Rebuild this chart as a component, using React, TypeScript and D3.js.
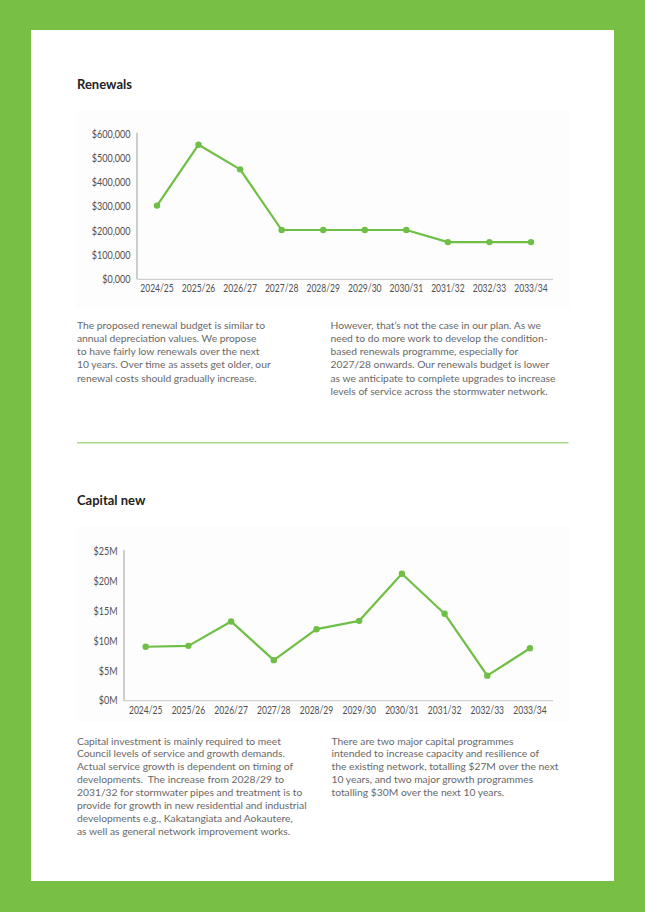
import React from "react";
import * as d3 from "d3";

const years = ["2024/25","2025/26","2026/27","2027/28","2028/29","2029/30","2030/31","2031/32","2032/33","2033/34"];
const renewalValues = [305000, 557000, 455000, 204000, 204000, 204000, 204000, 154000, 154000, 154000];
const renewalTicks = [0, 100000, 200000, 300000, 400000, 500000, 600000];
const capitalValues = [9.05, 9.2, 13.3, 6.8, 12.0, 13.4, 21.3, 14.6, 4.2, 8.8];
const capitalTicks = [0, 5, 10, 15, 20, 25];

const renewalsLeft = [
  "The proposed renewal budget is similar to",
  "annual depreciation values. We propose",
  "to have fairly low renewals over the next",
  "10 years. Over time as assets get older, our",
  "renewal costs should gradually increase.",
];
const renewalsRight = [
  "However, that\u2019s not the case in our plan. As we",
  "need to do more work to develop the condition-",
  "based renewals programme, especially for",
  "2027/28 onwards. Our renewals budget is lower",
  "as we anticipate to complete upgrades to increase",
  "levels of service across the stormwater network.",
];
const capitalLeft = [
  "Capital investment is mainly required to meet",
  "Council levels of service and growth demands.",
  "Actual service growth is dependent on timing of",
  "developments.  The increase from 2028/29 to",
  "2031/32 for stormwater pipes and treatment is to",
  "provide for growth in new residential and industrial",
  "developments e.g., Kakatangiata and Aokautere,",
  "as well as general network improvement works.",
];
const capitalRight = [
  "There are two major capital programmes",
  "intended to increase capacity and resilience of",
  "the existing network, totalling $27M over the next",
  "10 years, and two major growth programmes",
  "totalling $30M over the next 10 years.",
];

const GREEN = "#77c043";
const LINE = "#6fbe45";
const TICK = "#505050";
const TXT = "#686868";
const FONT = "Lato, 'Open Sans', sans-serif";

type ChartProps = {
  values: number[];
  ticks: number[];
  fmt: (v: number) => string;
  yMax: number;
  y0: number;
  yTop: number;
  axisX: number;
  xStart: number;
  xEnd: number;
  xAxisEnd: number;
  labelY: number;
};

function LineChart(p: ChartProps) {
  const x = d3.scalePoint<string>().domain(years).range([p.xStart, p.xEnd]);
  const y = d3.scaleLinear().domain([0, p.yMax]).range([p.y0, p.yTop]);
  const line = d3.line<number>().x((_, i) => x(years[i])!).y((d) => y(d));
  return (
    <g>
      <line x1={p.axisX} x2={p.axisX} y1={p.yTop - 1.5} y2={p.y0} stroke="#bdbdbd" strokeWidth={1.5} />
      <line x1={p.axisX} x2={p.xAxisEnd} y1={p.y0} y2={p.y0} stroke="#d0d0d0" strokeWidth={1.3} />
      {p.ticks.map((t) => (
        <g key={t} transform={`translate(${p.axisX - 6.5},${y(t) + 3.6}) scale(0.82,1)`}>
          <text textAnchor="end" fontSize={11} fill={TICK} fontFamily={FONT}>{p.fmt(t)}</text>
        </g>
      ))}
      {years.map((yr) => (
        <g key={yr} transform={`translate(${x(yr)},${p.labelY + 3.7}) scale(0.79,1)`}>
          <text textAnchor="middle" fontSize={10.8} fill={TICK} fontFamily={FONT}>{yr}</text>
        </g>
      ))}
      <path d={line(p.values) || ""} fill="none" stroke={LINE} strokeWidth={2.2} strokeLinejoin="round" />
      {p.values.map((v, i) => (
        <circle key={i} cx={x(years[i])} cy={y(v)} r={3.2} fill={LINE} />
      ))}
    </g>
  );
}

function Para({ lines, x, y, dy }: { lines: string[]; x: number; y: number; dy: number }) {
  return (
    <text fontFamily={FONT} fontSize={10.3} fill={TXT}>
      {lines.map((l, i) => (
        <tspan key={i} x={x} y={y + i * dy} style={{ whiteSpace: "pre" }}>{l}</tspan>
      ))}
    </text>
  );
}

export default function App() {
  const fmtRenew = (v: number) => (v === 0 ? "$0,000" : "$" + d3.format(",")(v));
  const fmtCap = (v: number) => `$${v}M`;
  return (
    <div style={{ position: "absolute", left: 0, top: 0 }}>
      <svg width={645} height={912} style={{ display: "block" }}>
        <rect x={0} y={0} width={645} height={912} fill={GREEN} />
        <rect x={31} y={30} width={583} height={851} fill="#ffffff" />
        <rect x={76} y={110} width={494} height={199} fill="#fdfdfd" />
        <rect x={76} y={526} width={494} height={196} fill="#fdfdfd" />

        <text x={77} y={89} fontFamily={FONT} fontWeight={700} fontSize={13} fill="#222">Renewals</text>
        <LineChart
          values={renewalValues}
          ticks={renewalTicks}
          fmt={fmtRenew}
          yMax={600000}
          y0={279.3}
          yTop={134.3}
          axisX={137}
          xStart={157}
          xEnd={531}
          xAxisEnd={553}
          labelY={288}
        />
        <Para lines={renewalsLeft} x={77} y={328.5} dy={13.3} />
        <Para lines={renewalsRight} x={330.5} y={328.5} dy={13.3} />

        <line x1={77} x2={568.5} y1={442.7} y2={442.7} stroke="#a8d98a" strokeWidth={1.5} />

        <text x={77} y={505} fontFamily={FONT} fontWeight={700} fontSize={13} fill="#222">Capital new</text>
        <LineChart
          values={capitalValues}
          ticks={capitalTicks}
          fmt={fmtCap}
          yMax={25}
          y0={700.7}
          yTop={551.7}
          axisX={124}
          xStart={145.7}
          xEnd={530}
          xAxisEnd={553}
          labelY={710}
        />
        <Para lines={capitalLeft} x={77} y={744.5} dy={12.86} />
        <Para lines={capitalRight} x={331.5} y={744.5} dy={12.86} />
      </svg>
    </div>
  );
}
